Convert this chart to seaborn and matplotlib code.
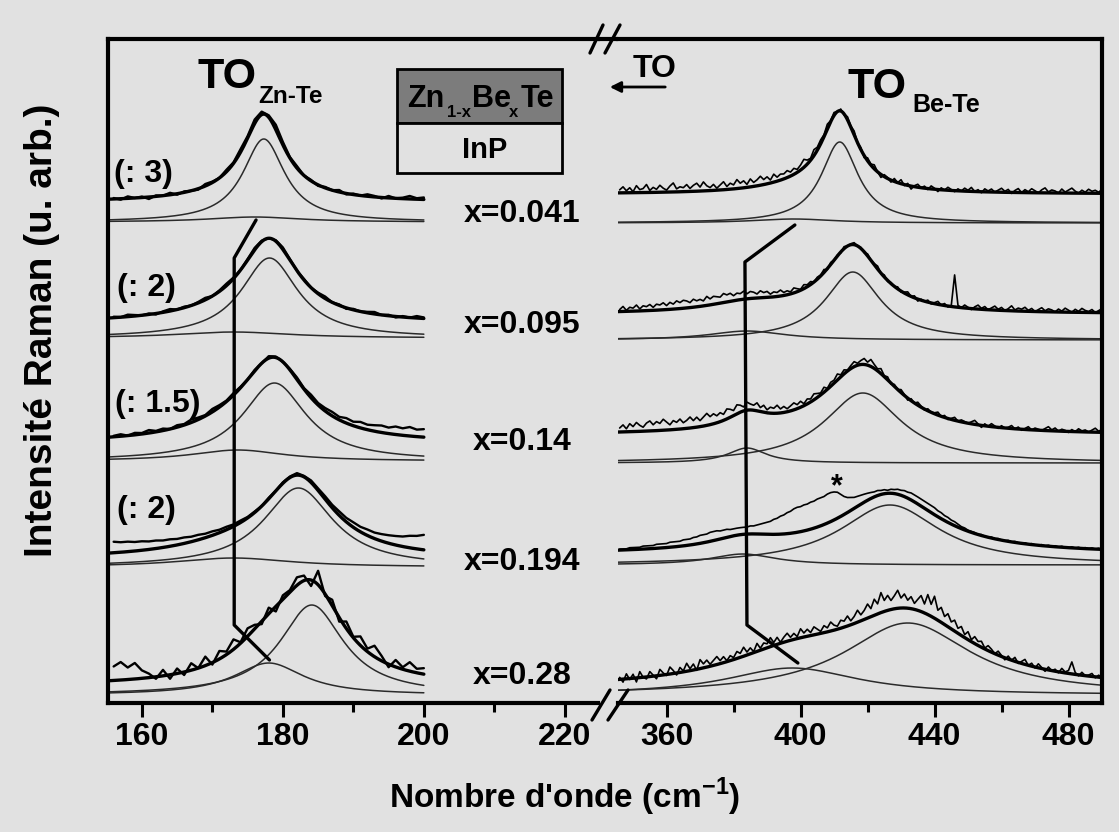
import numpy as np
import matplotlib
matplotlib.use("Agg")
import matplotlib.pyplot as plt
import seaborn as sns
from matplotlib.lines import Line2D
from matplotlib.patches import Rectangle

sns.set_theme(style="ticks")
BG = "#e1e1e1"
plt.rcParams['font.family'] = ['Liberation Sans', 'DejaVu Sans']
plt.rcParams['font.weight'] = 'bold'
plt.rcParams['mathtext.fontset'] = 'custom'
plt.rcParams['mathtext.rm'] = 'Liberation Sans'
plt.rcParams['mathtext.bf'] = 'Liberation Sans:bold'
plt.rcParams['text.color'] = 'black'
plt.rcParams['xtick.color'] = 'black'

W, H = 1119, 832

# samples, top to bottom
compositions = ['0.041', '0.095', '0.14', '0.194', '0.28']
divisors = ['3', '2', '1.5', '2', None]

# TO Zn-Te window: fitted modes (center cm-1, half width cm-1, height)
zn_main = [(177.3, 3.6, 83), (178.1, 4.9, 80), (178.8, 5.5, 78), (182.2, 6.0, 79), (184.1, 5.5, 90)]
zn_minor = [(176.0, 8.0, 5), (173.0, 10.0, 6), (173.6, 8.0, 11), (173.0, 10.0, 9), (178.0, 6.0, 32)]
zn_comp_base = [481, 365, 242, 136, 8]
zn_fit_base = [501, 380, 260, 144, 17]

# TO Be-Te window
be_main = [(411.7, 6.7, 81), (415.6, 10.0, 68), (418.6, 14.0, 70), (426.7, 18.0, 60), (432.0, 23.0, 72)]
be_minor = [(398.0, 15.0, 4), (384.0, 14.0, 9), (384.0, 7.0, 15), (382.8, 12.0, 11), (397.5, 24.0, 27)]
be_comp_base = [480, 363, 240, 138, 8]
be_fit_base = [509, 389, 268, 149, 14]

# measured spectra: deviation from the fit, sampled every 1 cm-1 (156-200)
zn_wavenumber = np.arange(156, 201, 1.0)
zn_resid = [
    [1, -1, 2, 0, 1, -2, 1, 0, 2, -1, 1, 0, -1, 2, 1, 0, 2, 1, 3, 2, 4, 3, 2, 5, 3, 1, 2, 0, 1, -1,
     1, 0, 2, -1, 1, 0, 2, 1, -1, 2, 0, 1, 3, 1, 2],
    [1, 0, 2, 1, 0, 1, -1, 1, 2, 0, 1, 0, 1, 2, 0, 1, 2, 1, 0, 1, 2, 1, 0, 1, 2, 1, 0, 1, 0, 1,
     2, 0, 1, -1, 1, 0, 1, 2, 0, 1, -1, 1, 0, 2, 1],
    [1, 2, 0, 2, 1, 3, 1, 2, 0, 2, 1, 3, 2, 1, 3, 2, 1, 2, 1, 0, 1, 0, 2, 1, 0, 1, 2, 1, 3, 2,
     3, 4, 3, 5, 4, 6, 5, 6, 7, 6, 8, 7, 9, 7, 8],
    [11, 10, 10, 9, 9, 8, 8, 7, 7, 6, 6, 5, 5, 4, 4, 3, 3, 2, 2, 1, 1, 0, 1, 0, 1, 1, 2, 1, 2, 2,
     3, 3, 4, 4, 5, 5, 6, 6, 7, 8, 9, 10, 12, 13, 15],
    [14, 18, 12, 16, 8, 4, -2, 6, -4, 5, -3, 7, 0, 9, -2, 8, 3, 10, 1, 8, 4, -3, 6, -5, 4, 2, 8, 5, -6, 14,
     -2, 6, -4, 7, 1, 9, 3, 11, 5, -3, 7, 2, 9, 4, 6],
]

# sampled every 1 cm-1 (346-490)
be_wavenumber = np.arange(346, 491, 1.0)
be_resid = [
    [3, 6, 2, 5, 1, 7, 3, 4, 8, 2, 5, 3, 7, 4, 2, 6, 9, 3, 5, 4, 7, 3, 6, 8, 4, 9, 5, 3, 6, 2,
     5, 8, 3, 6, 4, 9, 5, 7, 3, 8, 4, 6, 9, 5, 7, 3, 8, 4, 6, 5, 7, 4, 6, 3, 5, 8, 4, 2, 6, 3,
     4, 2, 5, 1, 3, 0, 2, -1, 3, 1, 4, 0, 2, -2, 3, 1, 4, 0, -3, 2, 1, -2, 3, 0, 4, -1, 2, -3, 1, 3,
     0, 2, -1, 3, 1, -2, 2, 0, 3, 1, -1, 2, 0, 3, 1, 4, 0, 2, -1, 3, 1, 3, 0, 2, 4, 1, 3, -1, 2, 4,
     0, 3, 1, 4, 2, 0, 3, 5, 1, 3, 2, 0, 4, 1, 3, 5, 2, 0, 3, 1, 4, 2, 3, 1, 4],
    [2, 5, 1, 4, 3, 6, 2, 5, 4, 6, 3, 6, 5, 7, 4, 7, 5, 8, 6, 8, 7, 5, 8, 6, 7, 5, 9, 6, 8, 7,
     6, 9, 7, 8, 5, 7, 6, 8, 5, 7, 6, 4, 7, 5, 6, 3, 5, 4, 6, 3, 4, 2, 5, 3, 1, 4, 2, 3, 0, 2,
     1, 3, -1, 2, 0, 1, -1, 2, 0, 1, 2, 0, 1, -1, 2, 0, 1, 3, 0, 2, -1, 1, 0, 2, -1, 1, 3, 0, 2, -2,
     1, 0, 2, -1, 1, 3, 0, 2, -1, 1, 32, 2, 0, 3, 1, -1, 2, 4, 1, 3, 0, 2, 4, 1, 3, 0, 2, 5, 1, 3,
     2, 4, 1, 3, 0, 2, 4, 1, 3, 2, 0, 3, 1, 4, 2, 0, 3, 1, 4, 2, 1, 3, 0, 2, 4],
    [4, 7, 3, 8, 5, 9, 6, 4, 8, 10, 6, 9, 7, 11, 8, 5, 9, 7, 10, 6, 8, 11, 7, 10, 6, 9, 12, 8, 10, 7,
     9, 6, 10, 8, 5, 9, 7, 4, 8, 6, 5, 8, 4, 7, 3, 6, 5, 8, 4, 6, 3, 5, 7, 4, 6, 2, 5, 3, 6, 4,
     2, 5, 1, 4, 3, 6, 2, 4, 1, 3, 5, 2, 4, 6, 3, 7, 4, 2, 5, 1, 3, -1, 2, 0, 3, 1, -2, 2, 0, 3,
     1, -1, 2, 0, 1, 3, 0, 2, -1, 1, 3, 0, 2, 1, 0, 2, 4, 1, -2, 2, 0, 3, 1, -1, 2, 0, 1, 3, 0, 2,
     -1, 1, 3, 0, 2, 1, 0, 2, 4, 1, 3, 0, 2, 1, -1, 2, 0, 3, 1, 2, 0, 2, 4, 1, 3],
    [1, 1, 1, 2, 2, 2, 2, 3, 3, 3, 3, 4, 4, 4, 4, 5, 5, 5, 5, 6, 6, 6, 7, 7, 8, 8, 8, 9, 9, 9,
     8, 8, 8, 7, 7, 7, 7, 7, 7, 8, 8, 9, 10, 11, 12, 13, 15, 16, 18, 19, 21, 22, 24, 25, 25, 26, 26, 27, 27, 28,
     28, 28, 29, 29, 28, 26, 22, 18, 15, 13, 11, 10, 9, 8, 7, 6, 5, 5, 4, 4, 3, 4, 4, 5, 5, 6, 6, 7, 7, 7,
     7, 7, 7, 7, 7, 6, 6, 5, 5, 4, 4, 3, 2, 2, 1, 1, 1, 0, 1, 0, 0, 1, 0, 1, 0, 0, 1, 0, 1, 0,
     0, 1, 0, 1, 0, 0, 1, 0, 1, 0, 1, 0, 1, 0, 0, 1, 0, 1, 0, 1, 0, 1, 0, 1, 0],
    [2, -3, 5, -1, 4, -4, 6, 0, -2, 5, 1, -3, 6, 2, -1, 7, 3, -2, 5, 1, 8, 2, 6, -1, 9, 4, 7, 2, 5, 8,
     3, 6, 1, 5, 2, 7, 4, 9, 3, 6, 1, 8, 2, 6, 4, 9, 3, 7, 1, 5, 8, 3, 6, 2, 9, 4, 7, 3, 8, 5,
     2, 7, 4, 9, 5, 3, 8, 6, 10, 4, 7, 12, 6, 9, 14, 8, 16, 10, 20, 11, 15, 9, 13, 18, 10, 14, 8, 12, 6, 11,
     16, 9, 20, 12, 22, 10, 15, 8, 13, 7, 11, 5, 9, 3, 8, 2, 7, 4, 6, 1, 5, 3, 0, 4, 1, -2, 3, 0, 4, -1,
     2, 5, 0, 3, -1, 4, 1, -2, 3, 0, 2, -1, 4, 1, 3, 12, 2, -1, 3, 0, 1, 3, -1, 2, 0],
]

# guide lines following the weak mode
guide_zn_x = [176.2, 173.1, 173.1, 178.1]
guide_zn_y = [483, 445, 78, 43]
guide_be_x = [398.3, 383.4, 384.0, 399.2]
guide_be_y = [478, 441, 78, 40]


def lorentz(x, mode):
    c, g, a = mode
    return a / (1 + ((x - c) / g) ** 2)


def P(x, y):
    return x / W, 1 - y / H


def line(ax, x, y, lw, color='black'):
    sns.lineplot(x=x, y=y, ax=ax, color=color, linewidth=lw, estimator=None,
                 sort=False, legend=False)


fig = plt.figure(figsize=(W / 100, H / 100), dpi=100, facecolor=BG)
ax_l = fig.add_axes([108 / W, 1 - 703 / H, (598 - 108) / W, (703 - 39) / H])
ax_r = fig.add_axes([618 / W, 1 - 703 / H, (1102 - 618) / W, (703 - 39) / H])


def draw_window(ax, xfine, xdata, mains, minors, comp_base, fit_base, resid, data_lw):
    for i in range(len(mains)):
        m1 = lorentz(xfine, mains[i])
        m2 = lorentz(xfine, minors[i])
        line(ax, xfine, comp_base[i] + m1, 1.1, '#2a2a2a')
        line(ax, xfine, comp_base[i] + m2, 1.1, '#2a2a2a')
        line(ax, xfine, fit_base[i] + m1 + m2, 2.4)
        meas = fit_base[i] + lorentz(xdata, mains[i]) + lorentz(xdata, minors[i]) + np.array(resid[i])
        line(ax, xdata, meas, data_lw)


draw_window(ax_l, np.linspace(155.5, 200, 400), zn_wavenumber, zn_main, zn_minor,
            zn_comp_base, zn_fit_base, zn_resid, 1.7)
draw_window(ax_r, np.linspace(345.5, 490, 600), be_wavenumber, be_main, be_minor,
            be_comp_base, be_fit_base, be_resid, 1.2)

line(ax_l, guide_zn_x, guide_zn_y, 2.4)
line(ax_r, guide_be_x, guide_be_y, 2.4)
ax_r.text(410.8, 216, '*', ha='center', va='center', fontsize=22)

ax_l.set_xlim(155.2, 224.7)
ax_r.set_xlim(345.5, 490)
ax_l.set_xticks([160, 180, 200, 220])
ax_l.set_xticks([170, 190, 210], minor=True)
ax_r.set_xticks([360, 400, 440, 480])
ax_r.set_xticks([380, 420, 460], minor=True)
for ax in (ax_l, ax_r):
    ax.set_facecolor(BG)
    ax.set_ylim(0, 664)
    ax.set_yticks([])
    ax.set_xlabel('')
    ax.set_ylabel('')
    for sp in ax.spines.values():
        sp.set_linewidth(3)
        sp.set_color('black')
    ax.tick_params(axis='x', which='major', direction='out', length=10, width=2.2,
                   labelsize=23, pad=4)
    ax.tick_params(axis='x', which='minor', direction='out', length=6.5, width=2.2)
ax_l.spines['right'].set_visible(False)
ax_r.spines['left'].set_visible(False)

# axis break
fig.add_artist(Line2D([598 / W, 618 / W], [1 - 39 / H] * 2, transform=fig.transFigure,
                      color='black', lw=3))
for (x0, y0, x1, y1) in [(590, 53, 603, 25), (605, 53, 620, 25),
                         (592, 720, 610, 690), (608, 720, 628, 690)]:
    fig.add_artist(Line2D([x0 / W, x1 / W], [1 - y0 / H, 1 - y1 / H],
                          transform=fig.transFigure, color='black', lw=2.4))

# mode titles
fig.text(*P(197, 88), 'TO', fontsize=31, ha='left', va='baseline')
fig.text(*P(258, 103), 'Zn-Te', fontsize=17.5, ha='left', va='baseline')
fig.text(*P(847, 98), 'TO', fontsize=31, ha='left', va='baseline')
fig.text(*P(912, 112), 'Be-Te', fontsize=18, ha='left', va='baseline')

# sample sketch
fig.add_artist(Rectangle(P(397, 123), 165 / W, 54 / H, transform=fig.transFigure,
                         facecolor='#7c7c7c', edgecolor='black', lw=2))
fig.add_artist(Rectangle(P(397, 173), 165 / W, 50 / H, transform=fig.transFigure,
                         facecolor=BG, edgecolor='black', lw=2))
for txt, x, y, fs in [('Zn', 407, 107, 22), ('1-x', 447, 117, 12), ('Be', 472, 107, 22),
                      ('x', 509, 117, 12), ('Te', 521, 107, 22)]:
    fig.text(*P(x, y), txt, fontsize=fs, ha='left', va='baseline')
fig.text(*P(485, 158), 'InP', fontsize=21, ha='center', va='baseline')
fig.text(*P(633, 77), 'TO', fontsize=23, ha='left', va='baseline')
ax_r.annotate('', xy=(607, H - 87), xytext=(668, H - 87), xycoords='figure pixels',
              arrowprops=dict(arrowstyle='-|>', color='black', lw=2, mutation_scale=16))

# labels per spectrum
label_y = [214, 325, 442, 562, 676]
div_pos = [(143, 174), (146, 288), (158, 404), (146, 510)]
for comp, ly in zip(compositions, label_y):
    fig.text(*P(522, ly), 'x=' + comp, fontsize=23, ha='center', va='center')
for d, (dx, dy) in zip(divisors, div_pos):
    if d:
        fig.text(*P(dx, dy), '(: ' + d + ')', fontsize=23, ha='center', va='center')

fig.text(*P(565, 797), r"Nombre d'onde (cm$^{\mathbf{-1}}$)", fontsize=24,
         ha='center', va='center')
fig.text(*P(42, 330), 'Intensité Raman (u. arb.)', fontsize=28, rotation=90,
         ha='center', va='center')

fig.savefig('out.png', dpi=100, facecolor=BG)
